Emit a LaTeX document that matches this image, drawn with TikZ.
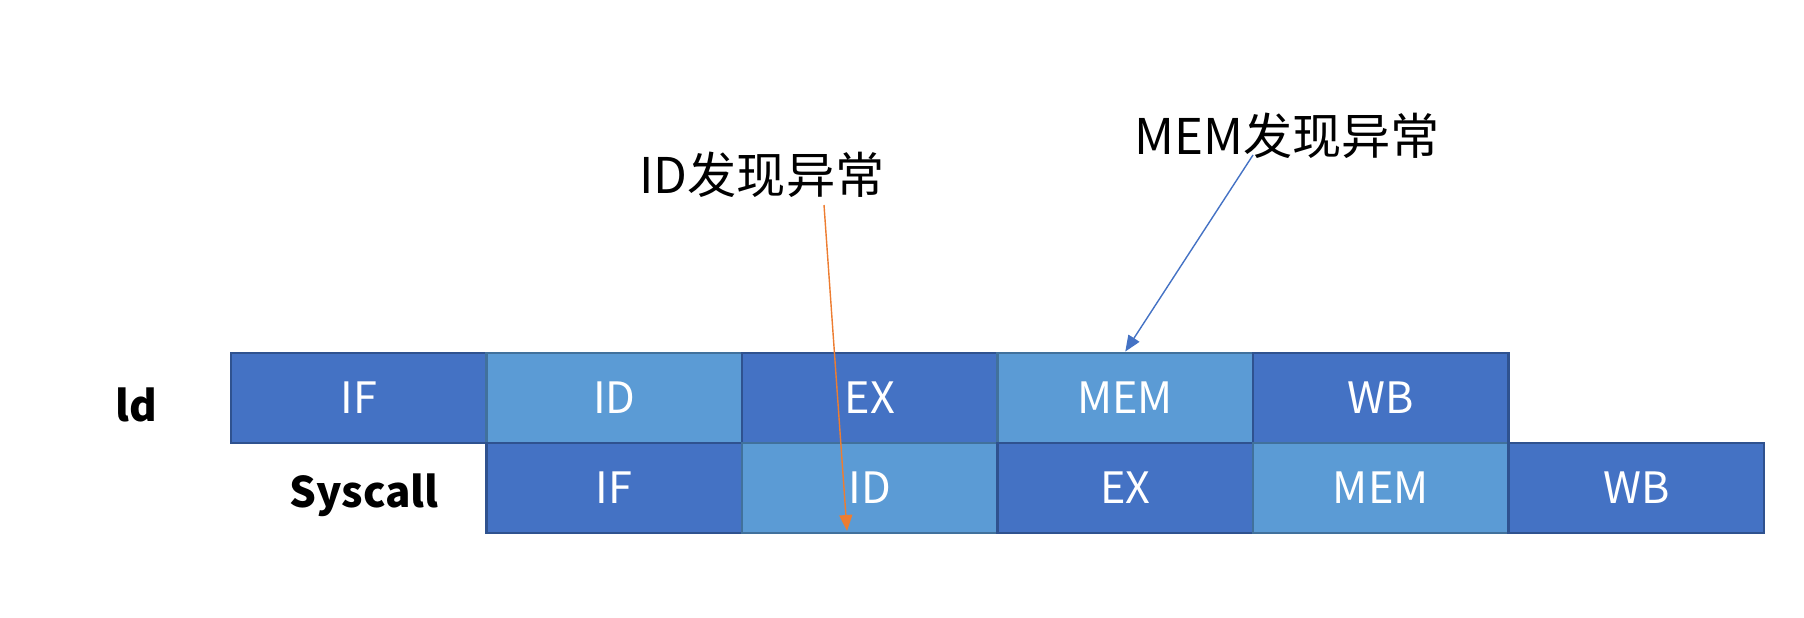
\documentclass[tikz,border=0pt]{standalone}
\usepackage{fontspec}
\newfontfamily\cjk{Noto Sans CJK SC}
\usetikzlibrary{arrows.meta,positioning}
\definecolor{stagedark}{HTML}{4472C4}
\definecolor{stagelight}{HTML}{5B9BD5}
\definecolor{edgedark}{HTML}{2F528F}
\definecolor{edgelight}{HTML}{41719C}
\definecolor{hintorange}{HTML}{ED7D31}

\tikzset{
  stage/.style={minimum width=2.555cm, minimum height=0.9cm, inner sep=0pt,
    text=white, font=\cjk\fontsize{12.3}{13}\selectfont, line width=0.8pt},
  darkstage/.style={stage, fill=stagedark, draw=edgedark},
  lightstage/.style={stage, fill=stagelight, draw=edgelight},
  rowlabel/.style={font=\cjk\bfseries\fontsize{12}{13}\selectfont},
  hint/.style={font=\cjk\fontsize{14}{15}\selectfont},
}

\begin{document}
\begin{tikzpicture}
  \useasboundingbox (0,0) rectangle (18.04,-6.18);
  % first instruction
  \node[rowlabel] (ldname) at (1.36,-4.05) {ld};
  \node[darkstage]  (ldif)  at (3.5875,-3.98) {IF};
  \node[lightstage] (ldid)  at (6.1425,-3.98) {ID};
  \node[darkstage]  (ldex)  at (8.6975,-3.98) {EX};
  \node[lightstage] (ldmem) at (11.2525,-3.98) {MEM};
  \node[darkstage]  (ldwb)  at (13.8075,-3.98) {WB};
  % second instruction, one cycle later
  \node[rowlabel] (sysname) at (3.64,-4.95) {Syscall};
  \node[darkstage]  (sysif)  at (6.1425,-4.88) {IF};
  \node[lightstage] (sysid)  at (8.6975,-4.88) {ID};
  \node[darkstage]  (sysex)  at (11.2525,-4.88) {EX};
  \node[lightstage] (sysmem) at (13.8075,-4.88) {MEM};
  \node[darkstage]  (syswb)  at (16.3625,-4.88) {WB};
  % exception notes
  \node[hint] (idnote)  at (7.62,-1.75) {ID发现异常};
  \node[hint] (memnote) at (12.87,-1.36) {MEM发现异常};
  \coordinate (idtail)  at (8.24,-2.05);
  \coordinate (idhead)  at (8.47,-5.31);
  \coordinate (memtail) at (12.53,-1.55);
  \draw[hintorange, line width=0.4pt, -{Triangle[length=1.6mm,width=1.3mm]}] (idtail) -- (idhead);
  \draw[stagedark, line width=0.4pt, -{Triangle[length=1.6mm,width=1.3mm]}] (memtail) -- (ldmem.north);
\end{tikzpicture}
\end{document}
